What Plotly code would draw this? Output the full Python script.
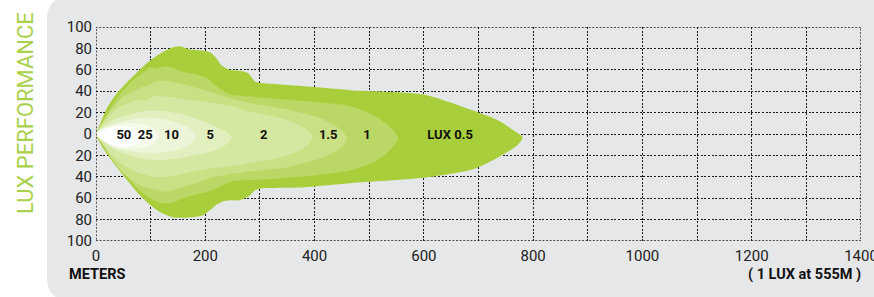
import plotly.graph_objects as go

# ---- data (meters, lux-chart half widths) ----
levels = ["0.5", "1", "1.5", "2", "5", "10", "25", "50"]
colors = ["#a8cf3b", "#bbd866", "#c9e084", "#d5e8a2", "#e2efbf", "#edf5d8", "#f6faeb", "#ffffff"]

c05_x = [0, 8, 20, 38, 56, 74, 95, 117, 135, 154, 172, 195, 210, 220, 230, 245, 262, 278, 291, 300, 373, 465, 599, 690, 739, 765, 781,
         772, 739, 690, 599, 465, 373, 300, 290, 280, 263, 245, 232, 221, 196, 170, 141, 117, 98, 80, 60, 38, 18, 8, 0]
c05_y = [0, 10, 24, 38, 48, 57, 67, 75, 80, 82, 79, 78, 76, 71, 64, 60, 59, 57, 49, 48, 45, 41, 37, 22, 12, 3, -3,
         -10, -21, -33, -41, -46, -50, -51, -53, -58, -62, -62, -63, -66, -76, -78, -78, -73, -66, -57, -45, -31, -17, -9, 0]

c1_x = [0, 10, 25, 45, 65, 85, 99, 111, 125, 140, 160, 180, 200, 215, 230, 245, 282, 373, 465, 510, 535, 548, 553,
        545, 530, 510, 465, 373, 318, 282, 250, 235, 215, 195, 172, 155, 141, 120, 100, 80, 60, 40, 20, 8, 0]
c1_y = [0, 10, 23, 38, 49, 57, 62, 61, 63, 62, 58, 56, 53, 47, 41, 37, 35, 31, 26, 17, 8, 1, -4,
        -11, -19, -26, -34, -40, -42, -43, -44, -47, -52, -55, -58, -61, -64, -65, -60, -53, -42, -28, -13, -5, 0]

c15_x = [0, 12, 30, 50, 65, 80, 95, 110, 125, 145, 165, 185, 205, 240, 282, 350, 410, 440, 455, 459,
         455, 440, 410, 350, 282, 240, 210, 190, 170, 150, 130, 110, 90, 70, 50, 30, 12, 0]
c15_y = [0, 10, 24, 35, 39, 43, 45, 49, 50, 48, 46, 43, 40, 34, 29, 23, 15, 7, 0, -4,
         -9, -16, -23, -31, -35, -38, -41, -45, -48, -51, -54, -52, -50, -45, -37, -24, -10, 0]

c2_x = [0, 12, 30, 45, 60, 75, 90, 105, 125, 145, 170, 200, 250, 282, 330, 370, 390, 397,
        390, 370, 330, 282, 250, 200, 170, 145, 125, 105, 90, 75, 60, 45, 30, 12, 0]
c2_y = [0, 9, 20, 26, 29, 32, 31, 35, 35, 34, 32, 30, 26, 21, 16, 9, 2, -3,
        -9, -16, -23, -27, -30, -33, -36, -39, -40, -40, -38, -36, -32, -27, -20, -9, 0]

c5_x = [0, 15, 35, 55, 75, 99, 130, 160, 190, 215, 235, 245, 248,
        245, 235, 215, 190, 160, 130, 99, 75, 55, 35, 15, 0]
c5_y = [0, 8, 14, 17, 20, 22, 21, 18, 13, 8, 3, -1, -3,
        -6, -11, -16, -19, -22, -24, -24, -22, -19, -15, -8, 0]

c10_x = [0, 15, 35, 60, 85, 110, 140, 165, 180, 184, 180, 165, 140, 110, 85, 60, 35, 15, 0]
c10_y = [0, 6, 10, 13, 15, 15, 12, 7, 1, -2, -6, -12, -16, -18, -18, -16, -13, -7, 0]

c25_x = [0, 15, 35, 60, 85, 105, 115, 105, 85, 60, 35, 15, 0]
c25_y = [0, 5, 8, 10, 9, 5, -2, -9, -13, -14, -12, -7, 0]

c50_x = [0, 10, 25, 45, 65, 80, 88, 80, 65, 45, 25, 10, 0]
c50_y = [0, 3, 6, 7, 6, 3, -2, -7, -11, -12, -9, -4, 0]

label_text = ["50", "25", "10", "5", "2", "1.5", "1", "LUX 0.5"]
label_x = [51, 90, 138, 209, 307, 425, 496, 648]
label_y = [-2, -2, -2, -2, -2, -2, -2, -2]

xticks = [0, 200, 400, 600, 800, 1000, 1200, 1400]
yticks = [-100, -80, -60, -40, -20, 0, 20, 40, 60, 80, 100]
yticktext = [str(abs(v)) for v in yticks]
x_range = [0, 1400]
y_range = [-100, 100]

contours = [(c05_x, c05_y), (c1_x, c1_y), (c15_x, c15_y), (c2_x, c2_y),
            (c5_x, c5_y), (c10_x, c10_y), (c25_x, c25_y), (c50_x, c50_y)]

fig = go.Figure()
for (cx, cy), col, lv in zip(contours, colors, levels):
    fig.add_trace(go.Scatter(x=cx, y=cy, mode="lines", fill="toself", fillcolor=col,
                             line=dict(width=0, color=col, shape="spline", smoothing=0.7),
                             hoverinfo="skip", showlegend=False, name=lv))

fig.add_trace(go.Scatter(x=label_x, y=label_y, mode="text", text=label_text,
                         textfont=dict(family="Roboto", size=13, color="#111111", weight="bold"),
                         showlegend=False, hoverinfo="skip"))

L, R, T, B = 96, 13, 27, 56
W, H = 874, 297
pw, ph = W - L - R, H - T - B


def px(xp):
    return (xp - L) / pw


def py(yp):
    return (H - B - yp) / ph


GRID = dict(gridcolor="#1a1a1a", gridwidth=1.4, griddash="2px,1.6px")

# rounded panel (left corners rounded)
x0, x1, y0, y1, r = 47, 890, -3, 300, 22
path = (f"M {px(x0 + r)} {py(y0)} L {px(x1)} {py(y0)} L {px(x1)} {py(y1)} L {px(x0 + r)} {py(y1)} "
        f"Q {px(x0)} {py(y1)} {px(x0)} {py(y1 - r)} L {px(x0)} {py(y0 + r)} "
        f"Q {px(x0)} {py(y0)} {px(x0 + r)} {py(y0)} Z")

fig.update_layout(
    width=W, height=H,
    margin=dict(l=L, r=R, t=T, b=B, autoexpand=False),
    paper_bgcolor="#ffffff",
    plot_bgcolor="rgba(0,0,0,0)",
    shapes=[
        dict(type="path", xref="paper", yref="paper", path=path,
             fillcolor="#e6e7e8", line=dict(width=0), layer="below"),
        dict(type="rect", xref="x", yref="y", x0=x_range[0], x1=x_range[1], y0=y_range[0], y1=y_range[1],
             line=dict(color="#1a1a1a", width=1.4, dash="2px,1.6px"), fillcolor="rgba(0,0,0,0)", layer="above"),
    ],
    xaxis=dict(range=x_range, tickvals=xticks, ticks="", showline=False, zeroline=False,
               showgrid=True, **GRID,
               tickfont=dict(family="Roboto", size=15, color="#222222"),
               ticklabelstandoff=4, automargin=False, ticklabeloverflow="allow"),
    yaxis=dict(range=y_range, tickvals=yticks, ticktext=yticktext, ticks="", showline=False,
               zeroline=False, showgrid=True, **GRID,
               tickfont=dict(family="Roboto", size=15, color="#222222"), ticklabelstandoff=3,
               automargin=False, ticklabeloverflow="allow"),
    annotations=[
        dict(text="LUX PERFORMANCE", xref="paper", yref="paper", x=px(25), y=py(113), textangle=-90,
             showarrow=False, font=dict(family="Roboto", size=22, color="#a9d14a"),
             xanchor="center", yanchor="middle"),
        dict(text="<b>METERS</b>", xref="paper", yref="paper", x=px(67), y=py(274),
             showarrow=False, font=dict(family="Roboto", size=14.5, color="#111111"),
             xanchor="left", yanchor="middle"),
        dict(text="<b>( 1 LUX at 555M )</b>", xref="paper", yref="paper", x=px(863), y=py(274),
             showarrow=False, font=dict(family="Roboto", size=14.5, color="#111111"),
             xanchor="right", yanchor="middle"),
    ],
)

# gridlines every 100 m
fig.update_xaxes(minor=dict(dtick=100, tick0=0, showgrid=True, **GRID))

fig.write_html("out.html", config={"displayModeBar": False},
               post_script="document.body.style.margin='0';document.body.style.padding='0';")
